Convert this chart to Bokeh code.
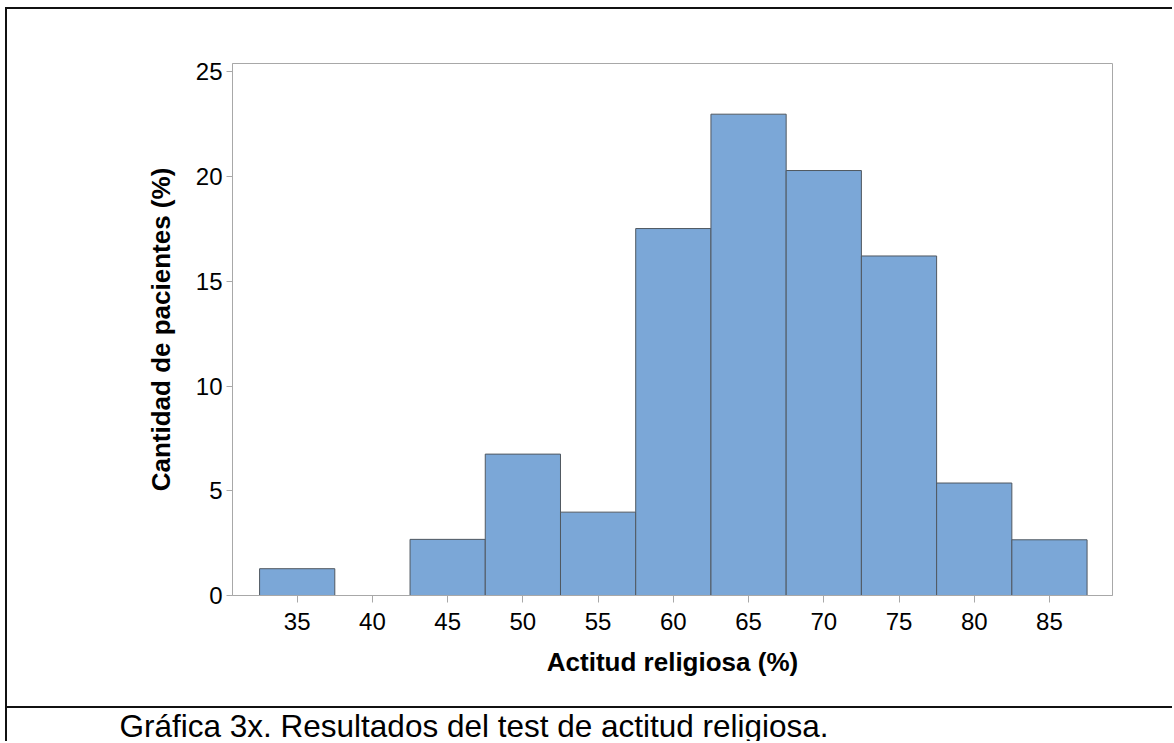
from bokeh.plotting import figure
from bokeh.models import Label, FixedTicker, Range1d, ColumnDataSource
from bokeh.embed import file_html
from bokeh.resources import INLINE

# ---- data ----
bin_centers = [35, 40, 45, 50, 55, 60, 65, 70, 75, 80, 85]
percent = [1.28, 0.0, 2.68, 6.75, 3.98, 17.52, 22.98, 20.29, 16.21, 5.37, 2.66]
bin_width = 5
x_ticks = [35, 40, 45, 50, 55, 60, 65, 70, 75, 80, 85]
y_ticks = [0, 5, 10, 15, 20, 25]
x_label = "Actitud religiosa (%)"
y_label = "Cantidad de pacientes (%)"
caption = "Gráfica 3x. Resultados del test de actitud religiosa."

FONT = "Liberation Sans"
FRAME_GRAY = "#a8a8a8"
BAR_EDGE = "#505860"

src = ColumnDataSource(dict(
    left=[c - bin_width / 2 for c in bin_centers],
    right=[c + bin_width / 2 for c in bin_centers],
    top=percent,
    bottom=[0] * len(percent),
))

p = figure(width=1167, height=734, output_backend="svg", toolbar_location=None,
           x_range=Range1d(30.7, 89.19), y_range=Range1d(0, 25.4),
           min_border_left=225, min_border_right=62,
           min_border_top=54, min_border_bottom=148,
           background_fill_color="white", border_fill_color="white",
           border_fill_alpha=0)
# document box around the figure: top/left edges plus the caption separator line
p.styles = {"margin-left": "5px", "margin-top": "7px",
            "border-left": "2px solid #111111", "border-top": "2px solid #111111",
            "background": "linear-gradient(#111111, #111111) 0px 697px / 100% 2px no-repeat, white"}

p.quad(left="left", right="right", top="top", bottom="bottom", source=src,
       fill_color="#7BA7D7", line_color=BAR_EDGE, line_width=1)
# bottom edges of the bins (keeps the empty bin's outline visible)
p.segment(x0="left", y0="bottom", x1="right", y1="bottom", source=src,
          line_color=BAR_EDGE, line_width=1)

p.xgrid.visible = False
p.ygrid.visible = False
p.outline_line_color = FRAME_GRAY
p.outline_line_width = 1

p.xaxis.ticker = FixedTicker(ticks=x_ticks)
p.yaxis.ticker = FixedTicker(ticks=y_ticks)
for ax in (p.xaxis, p.yaxis):
    ax.axis_line_color = FRAME_GRAY
    ax.major_tick_line_color = FRAME_GRAY
    ax.minor_tick_line_color = None
    ax.major_tick_in = 0
    ax.major_label_text_font = FONT
    ax.major_label_text_font_size = "24px"
    ax.major_label_text_color = "black"
    ax.axis_label_text_font = FONT
    ax.axis_label_text_font_size = "26px"
    ax.axis_label_text_font_style = "bold"
    ax.axis_label_text_color = "black"

p.xaxis.major_tick_out = 7
p.yaxis.major_tick_out = 6
p.xaxis.major_label_standoff = 10
p.yaxis.major_label_standoff = 4
p.xaxis.axis_label = x_label
p.yaxis.axis_label = y_label
p.xaxis.axis_label_standoff = 14
p.yaxis.axis_label_standoff = 17

# caption below the separator
p.add_layout(Label(x=110, y=696, x_units="canvas", y_units="canvas",
                   text=caption, text_font=FONT, text_font_size="31.5px",
                   text_color="black", text_baseline="top", text_align="left"), "below")

open("out.html", "w").write(file_html(p, INLINE))
